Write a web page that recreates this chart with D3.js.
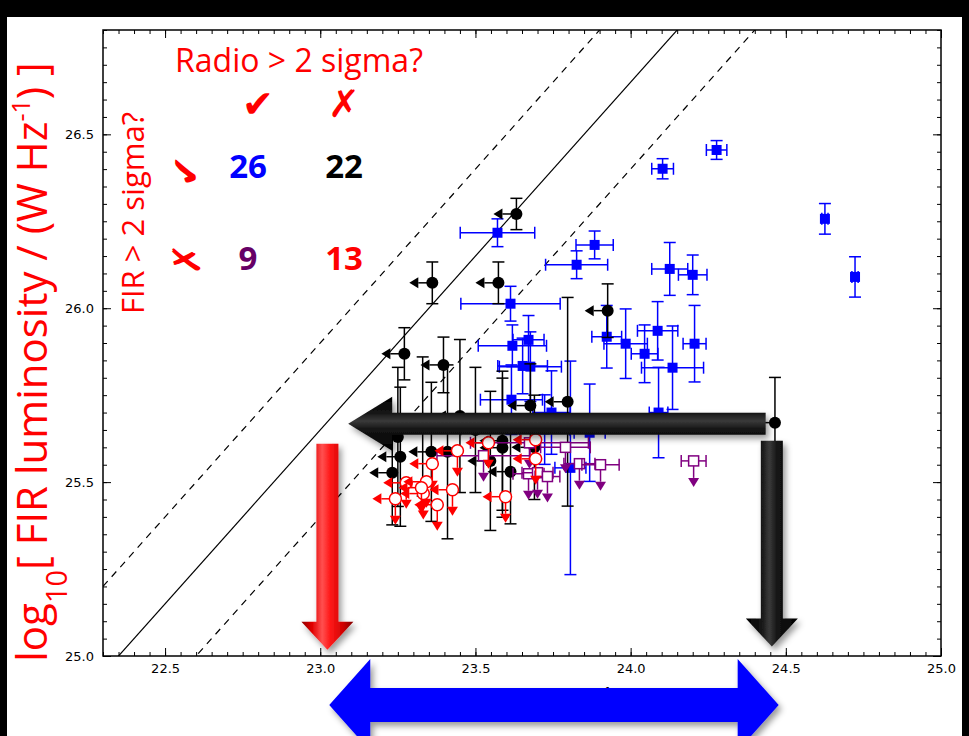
<!DOCTYPE html>
<html lang="en">
<head>
<meta charset="UTF-8">
<style>
  body { margin: 0; padding: 0; background: #000; }
  svg { display: block; }
  .tick text { font-family: "DejaVu Sans", sans-serif; font-size: 13px; fill: #000; }
  .note { font-family: "Open Sans", "Liberation Sans", sans-serif; }
</style>
</head>
<body>
<svg id="chart" width="969" height="736"></svg>
<script src="https://d3js.org/d3.v7.min.js"></script>
<script>
// radio detected, FIR detected (blue squares, x and y errors)
const blueX    = [24.277, 24.103, 24.626, 24.723, 23.884, 23.826, 23.571, 24.126, 24.200, 23.613, 23.923, 23.984, 24.087,
                  24.045, 24.206, 24.135, 24.090, 23.868, 23.619, 23.652, 23.677, 23.671, 23.616, 23.723, 23.806, 23.745];
const blueY    = [26.455, 26.401, 26.257, 26.090, 26.182, 26.125, 26.217, 26.113, 26.096, 26.013, 25.918, 25.898, 25.935,
                  25.869, 25.898, 25.829, 25.700, 25.642, 25.892, 25.834, 25.832, 25.909, 25.737, 25.651, 25.541, 25.700];
const blueXerr = [0.033, 0.035, 0.010, 0.010, 0.060, 0.100, 0.120, 0.058, 0.046, 0.160, 0.048, 0.070, 0.065,
                  0.043, 0.037, 0.100, 0.030, 0.050, 0.110, 0.080, 0.100, 0.050, 0.100, 0.080, 0.050, 0.060];
const blueYerr = [0.027, 0.029, 0.044, 0.058, 0.040, 0.040, 0.040, 0.076, 0.057, 0.050, 0.090, 0.100, 0.084,
                  0.083, 0.110, 0.120, 0.130, 0.140, 0.060, 0.080, 0.100, 0.070, 0.100, 0.100, 0.307, 0.120];

// radio undetected, FIR detected (black circles, radio upper limit)
const blackX    = [23.632, 23.361, 23.574, 23.926, 23.271, 23.397, 23.677, 23.797, 24.465, 23.587, 23.587,
                   23.548, 23.258, 23.232, 23.358, 23.410, 23.613, 23.330, 23.450, 23.500, 23.250, 23.690];
const blackY    = [26.271, 26.073, 26.073, 25.993, 25.869, 25.837, 25.720, 25.731, 25.671, 25.619, 25.599,
                   25.561, 25.573, 25.527, 25.587, 25.587, 25.530, 25.660, 25.690, 25.650, 25.630, 25.600];
const blackYerr = [0.045, 0.060, 0.060, 0.077, 0.075, 0.080, 0.120, 0.300, 0.130, 0.200, 0.200,
                   0.200, 0.200, 0.150, 0.200, 0.250, 0.150, 0.200, 0.220, 0.180, 0.200, 0.150];

// radio detected, FIR undetected (purple open squares, FIR upper limit)
const purpleX    = [24.203, 23.526, 23.671, 23.700, 23.732, 23.835, 23.674, 23.903, 23.790];
const purpleY    = [25.561, 25.576, 25.524, 25.527, 25.516, 25.553, 25.613, 25.550, 25.600];
const purpleXerr = [0.040, 0.150, 0.050, 0.050, 0.040, 0.050, 0.190, 0.060, 0.080];

// neither detected (red open circles, both upper limits)
const redX = [23.694, 23.694, 23.542, 23.442, 23.361, 23.277, 23.342, 23.332, 23.426, 23.242, 23.377, 23.597, 23.326];
const redY = [25.622, 25.567, 25.613, 25.590, 25.553, 25.498, 25.501, 25.467, 25.478, 25.452, 25.435, 25.458, 25.484];

// radio-FIR relation: y = x + offset
const lineOffsets = [2.4, 2.65, 2.9];
const lineDash    = ["7,6", null, "7,6"];

const xMajor = [22.5, 23.0, 23.5, 24.0, 24.5, 25.0];
const yMajor = [25.0, 25.5, 26.0, 26.5];

// count table
const tableCounts = [["26", "22"], ["9", "13"]];
const tableColors = [["#0000ff", "#000000"], ["#660066", "#ff0000"]];

let width = 969, height = 736;
let svg = d3.select("#chart");

let x = d3.scaleLinear().domain([22.3, 25.0]).range([103, 941]);
let y = d3.scaleLinear().domain([25.0, 26.8]).range([656, 30]);

// figure background
svg.append("rect").attr("width", width).attr("height", height).attr("fill", "#000");
svg.append("rect").attr("x", 7).attr("y", 17).attr("width", 955).attr("height", height - 17).attr("fill", "#fff");

let defs = svg.append("defs");
defs.append("clipPath").attr("id", "plotclip").append("rect")
  .attr("x", 103).attr("y", 30).attr("width", 838).attr("height", 626);

let shadow = defs.append("filter").attr("id", "shadow")
  .attr("x", "-20%").attr("y", "-20%").attr("width", "150%").attr("height", "150%");
shadow.append("feDropShadow").attr("dx", 3).attr("dy", 4).attr("stdDeviation", 3)
  .attr("flood-color", "#000").attr("flood-opacity", 0.4);

function bevel(id, dir, stops) {
  let g = defs.append("linearGradient").attr("id", id);
  if (dir == "v") g.attr("x1", 0).attr("y1", 0).attr("x2", 0).attr("y2", 1);
  else g.attr("x1", 0).attr("y1", 0).attr("x2", 1).attr("y2", 0);
  stops.forEach(s => g.append("stop").attr("offset", s[0]).attr("stop-color", s[1]));
}
bevel("redGrad", "h", [[0, "#900000"], [0.2, "#e00000"], [0.4, "#ff5050"], [0.55, "#ff1a1a"], [0.8, "#d00000"], [1, "#800000"]]);
bevel("blackGradV", "h", [[0, "#000"], [0.3, "#151515"], [0.45, "#3a3a3a"], [0.6, "#151515"], [1, "#000"]]);
bevel("blackGradH", "v", [[0, "#000"], [0.3, "#151515"], [0.45, "#3a3a3a"], [0.6, "#151515"], [1, "#000"]]);

// axes (ticks pointing inward, on all four sides)
function minorTicks(domain, step) {
  let out = [];
  for (let v = domain[0]; v <= domain[1] + 1e-9; v += step) out.push(+v.toFixed(2));
  return out;
}
let xMinor = minorTicks([22.3, 25.0], 0.05);
let yMinor = minorTicks([25.0, 26.8], 0.05);

let axes = svg.append("g").attr("class", "axes");
axes.append("g").attr("transform", "translate(0,656)")
  .call(d3.axisBottom(x).tickValues(xMajor).tickFormat(d3.format(".1f")).tickSize(-8).tickPadding(8));
axes.append("g").attr("transform", "translate(0,656)")
  .call(d3.axisBottom(x).tickValues(xMinor).tickFormat("").tickSize(-4));
axes.append("g").attr("transform", "translate(0,30)")
  .call(d3.axisTop(x).tickValues(xMajor).tickFormat("").tickSize(-8));
axes.append("g").attr("transform", "translate(0,30)")
  .call(d3.axisTop(x).tickValues(xMinor).tickFormat("").tickSize(-4));
axes.append("g").attr("transform", "translate(103,0)")
  .call(d3.axisLeft(y).tickValues(yMajor).tickFormat(d3.format(".1f")).tickSize(-8).tickPadding(9));
axes.append("g").attr("transform", "translate(103,0)")
  .call(d3.axisLeft(y).tickValues(yMinor).tickFormat("").tickSize(-4));
axes.append("g").attr("transform", "translate(941,0)")
  .call(d3.axisRight(y).tickValues(yMajor).tickFormat("").tickSize(-8));
axes.append("g").attr("transform", "translate(941,0)")
  .call(d3.axisRight(y).tickValues(yMinor).tickFormat("").tickSize(-4));
axes.selectAll(".domain").remove();
axes.selectAll(".tick line").attr("stroke", "#000").attr("stroke-width", 1);

// x-axis label (mostly hidden under the blue arrow)
svg.append("text").attr("x", 522).attr("y", 699).attr("text-anchor", "middle")
  .attr("font-family", "DejaVu Sans, sans-serif").attr("font-size", 12).attr("fill", "#000")
  .html('log<tspan baseline-shift="sub" font-size="9">10</tspan>[ radio luminosity / (W Hz<tspan baseline-shift="super" font-size="9">-1</tspan>) ]');

let plot = svg.append("g").attr("clip-path", "url(#plotclip)");

// relation lines
lineOffsets.forEach((off, i) => {
  let xs = [22.3, 25.0];
  plot.append("path")
    .datum(xs)
    .attr("d", d3.line().x(d => x(d)).y(d => y(d + off)))
    .attr("fill", "none").attr("stroke", "#000").attr("stroke-width", 1.2)
    .attr("stroke-dasharray", lineDash[i]);
});

// helpers
function errBar(g, color, x1, y1, x2, y2, vertical) {
  g.append("line").attr("x1", x1).attr("y1", y1).attr("x2", x2).attr("y2", y2)
    .attr("stroke", color).attr("stroke-width", 1.5);
  let c = 6;
  [[x1, y1], [x2, y2]].forEach(p => {
    if (vertical) g.append("line").attr("x1", p[0] - c).attr("x2", p[0] + c).attr("y1", p[1]).attr("y2", p[1])
      .attr("stroke", color).attr("stroke-width", 1.5);
    else g.append("line").attr("y1", p[1] - c).attr("y2", p[1] + c).attr("x1", p[0]).attr("x2", p[0])
      .attr("stroke", color).attr("stroke-width", 1.5);
  });
}
function limitArrow(g, color, px, py, dir) {
  let len = dir == "left" ? 23 : 26;
  let h = 9, w = 5.5;
  if (dir == "left") {
    g.append("line").attr("x1", px).attr("y1", py).attr("x2", px - len + h).attr("y2", py)
      .attr("stroke", color).attr("stroke-width", 1.5);
    g.append("path").attr("d", `M${px - len},${py} L${px - len + h},${py - w} L${px - len + h},${py + w} Z`).attr("fill", color);
  } else {
    g.append("line").attr("x1", px).attr("y1", py).attr("x2", px).attr("y2", py + len - h)
      .attr("stroke", color).attr("stroke-width", 1.5);
    g.append("path").attr("d", `M${px},${py + len} L${px - w},${py + len - h} L${px + w},${py + len - h} Z`).attr("fill", color);
  }
}

// blue squares
let gBlue = plot.append("g");
blueX.forEach((bx, i) => {
  let px = x(bx), py = y(blueY[i]);
  errBar(gBlue, "#0000ff", x(bx - blueXerr[i]), py, x(bx + blueXerr[i]), py, false);
  errBar(gBlue, "#0000ff", px, y(blueY[i] - blueYerr[i]), px, y(blueY[i] + blueYerr[i]), true);
  gBlue.append("rect").attr("x", px - 5).attr("y", py - 5).attr("width", 10).attr("height", 10).attr("fill", "#0000ff");
});

// black circles
let gBlack = plot.append("g");
blackX.forEach((bx, i) => {
  let px = x(bx), py = y(blackY[i]);
  errBar(gBlack, "#000", px, y(blackY[i] - blackYerr[i]), px, y(blackY[i] + blackYerr[i]), true);
  limitArrow(gBlack, "#000", px, py, "left");
  gBlack.append("circle").attr("cx", px).attr("cy", py).attr("r", 6).attr("fill", "#000");
});

// purple open squares
let gPurple = plot.append("g");
purpleX.forEach((bx, i) => {
  let px = x(bx), py = y(purpleY[i]);
  errBar(gPurple, "#800080", x(bx - purpleXerr[i]), py, x(bx + purpleXerr[i]), py, false);
  limitArrow(gPurple, "#800080", px, py, "down");
  gPurple.append("rect").attr("x", px - 5).attr("y", py - 5).attr("width", 10).attr("height", 10)
    .attr("fill", "#fff").attr("stroke", "#800080").attr("stroke-width", 1.5);
});

// red open circles
let gRed = plot.append("g");
redX.forEach((bx, i) => {
  let px = x(bx), py = y(redY[i]);
  limitArrow(gRed, "#ff0000", px, py, "left");
  limitArrow(gRed, "#ff0000", px, py, "down");
  gRed.append("circle").attr("cx", px).attr("cy", py).attr("r", 6)
    .attr("fill", "#fff").attr("stroke", "#ff0000").attr("stroke-width", 1.5);
});

// frame
svg.append("rect").attr("x", 103).attr("y", 30).attr("width", 838).attr("height", 626)
  .attr("fill", "none").attr("stroke", "#000").attr("stroke-width", 1.5);

// big annotation arrows
function bigArrowDown(cx, top, tip, shaftW, headW, headH, fill) {
  let d = `M${cx - shaftW / 2},${top} L${cx + shaftW / 2},${top} L${cx + shaftW / 2},${tip - headH}
    L${cx + headW / 2},${tip - headH} L${cx},${tip} L${cx - headW / 2},${tip - headH}
    L${cx - shaftW / 2},${tip - headH} Z`;
  svg.append("path").attr("d", d).attr("fill", fill).attr("filter", "url(#shadow)");
}
function bigArrowLeft(cy, tip, tail, shaftW, headW, headL, fill) {
  let d = `M${tip},${cy} L${tip + headL},${cy - headW / 2} L${tip + headL},${cy - shaftW / 2}
    L${tail},${cy - shaftW / 2} L${tail},${cy + shaftW / 2} L${tip + headL},${cy + shaftW / 2}
    L${tip + headL},${cy + headW / 2} Z`;
  svg.append("path").attr("d", d).attr("fill", fill).attr("filter", "url(#shadow)");
}

bigArrowLeft(y(25.668), x(23.09), x(24.435), 22, 54, 44, "url(#blackGradH)");
bigArrowDown(x(23.023), y(25.610), y(25.018), 22, 52, 28, "url(#redGrad)");
bigArrowDown(x(24.455), y(25.619), y(25.027), 22, 52, 28, "url(#blackGradV)");

// blue double arrow under the x axis
(function () {
  let l = x(23.029), r = x(24.477), cy = 705, sw = 34, hw = 92, hl = 41;
  let d = `M${l},${cy} L${l + hl},${cy - hw / 2} L${l + hl},${cy - sw / 2} L${r - hl},${cy - sw / 2}
    L${r - hl},${cy - hw / 2} L${r},${cy} L${r - hl},${cy + hw / 2} L${r - hl},${cy + sw / 2}
    L${l + hl},${cy + sw / 2} L${l + hl},${cy + hw / 2} Z`;
  svg.append("path").attr("d", d).attr("fill", "#0000ff").attr("filter", "url(#shadow)");
})();

// y-axis label
svg.append("text").attr("class", "note")
  .attr("transform", "translate(47,362) rotate(-90)").attr("text-anchor", "middle")
  .attr("font-size", 42).attr("fill", "#ff0000")
  .html('log<tspan baseline-shift="sub" font-size="29">10</tspan>[ FIR luminosity / (W Hz<tspan baseline-shift="super" font-size="25">-1</tspan>) ]');

// count table
svg.append("text").attr("class", "note").attr("x", 299).attr("y", 72).attr("text-anchor", "middle")
  .attr("font-size", 32).attr("fill", "#ff0000").text("Radio > 2 sigma?");
svg.append("text").attr("class", "note")
  .attr("transform", "translate(144,213) rotate(-90)").attr("text-anchor", "middle")
  .attr("font-size", 31).attr("fill", "#ff0000").text("FIR > 2 sigma?");

let colX = [248, 344], rowY = [178, 270];
function mark(glyph, tx, ty, rot) {
  svg.append("text").attr("transform", `translate(${tx},${ty}) rotate(${rot})`).attr("text-anchor", "middle")
    .attr("font-family", "DejaVu Sans, sans-serif").attr("font-size", 38).attr("font-weight", "bold")
    .attr("fill", "#ff0000").text(glyph);
}
mark("\u2714", 258, 117, 0);
mark("\u2717", 344, 117, 0);
mark("\u2714", 199, 171, -90);
mark("\u2717", 200, 259, -90);

tableCounts.forEach((row, r) => {
  row.forEach((v, c) => {
    svg.append("text").attr("class", "note").attr("x", colX[c]).attr("y", rowY[r])
      .attr("text-anchor", "middle").attr("font-size", 33).attr("font-weight", "bold")
      .attr("fill", tableColors[r][c]).text(v);
  });
});
</script>
</body>
</html>
